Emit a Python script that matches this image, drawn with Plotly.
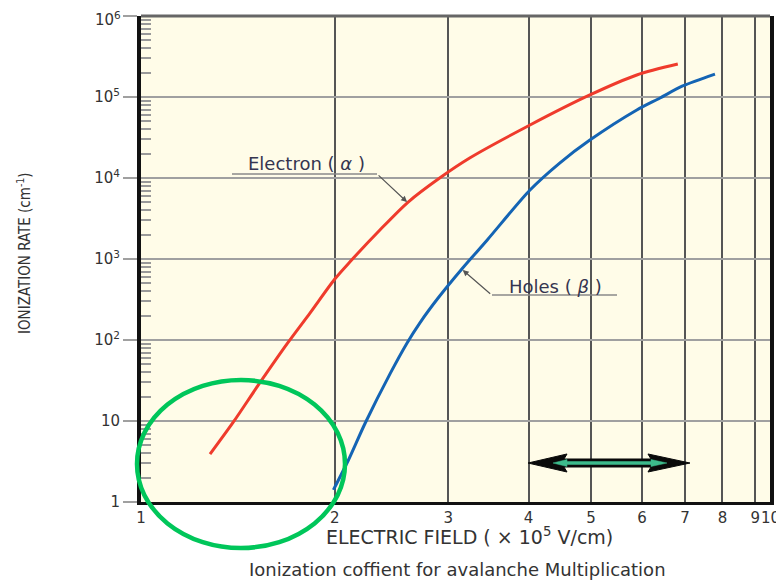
import plotly.graph_objects as go
import numpy as np

# ---------------- data ----------------
field_electron = [1.28, 1.39, 1.52, 1.69, 1.83, 2.0, 2.11, 2.35, 2.60, 2.91, 3.24, 4.02, 4.98, 5.89, 6.82]
alpha_rate = [3.9, 9.6, 27.5, 92, 215, 566, 918, 2280, 5050, 10000, 17650, 45100, 106000, 187000, 255000]

field_holes = [1.99, 2.10, 2.23, 2.44, 2.59, 2.71, 2.89, 3.16, 3.45, 4.02, 4.47, 4.98, 5.89, 6.40, 6.94, 7.79]
beta_rate = [1.41, 3.3, 9.45, 39, 92, 162, 325, 774, 1720, 7110, 15300, 29400, 69200, 97300, 136800, 192000]

x_ticks = [1, 2, 3, 4, 5, 6, 7, 8, 9]
x_ticktext = ["1", "2", "3", "4", "5", "6", "7", "8", "9"]
y_ticks = [1, 10, 100, 1e3, 1e4, 1e5, 1e6]
y_ticktext = ["1", "10", "10<sup>2</sup>", "10<sup>3</sup>", "10<sup>4</sup>", "10<sup>5</sup>", ""]
y_top_label = "10<sup>6</sup>"
y_minor = [k * 10 ** n for n in range(6) for k in range(2, 10)]

# ---------------- layout geometry (page pixels) ----------------
OFF = 8                      # default body margin of the html page
W, H = 784 - OFF, 581 - OFF
L, R, T, B = 141, 770, 16, 502
PW, PH = R - L, B - T


def px(x):
    return (x - L) / PW


def py(y):
    return (B - y) / PH


TEXT = "#333333"
TICKFONT = dict(family="DejaVu Sans, Arial, sans-serif", size=15, color=TEXT)
LABFONT = dict(family="DejaVu Sans, Arial", size=18, color="#353550")

fig = go.Figure()

fig.add_trace(go.Scatter(
    x=field_electron, y=alpha_rate, mode="lines", name="Electron (α)",
    line=dict(color="#EF3B2C", width=3, shape="spline", smoothing=0.8),
    showlegend=False, hoverinfo="x+y"))
fig.add_trace(go.Scatter(
    x=field_holes, y=beta_rate, mode="lines", name="Holes (β)",
    line=dict(color="#1464B4", width=3, shape="spline", smoothing=0.8),
    showlegend=False, hoverinfo="x+y"))

fig.update_layout(
    width=W, height=H, autosize=False,
    margin=dict(l=L - OFF, r=W - (R - OFF), t=T - OFF, b=H - (B - OFF), pad=0),
    paper_bgcolor="white", plot_bgcolor="#FFFCE8",
    showlegend=False,
    xaxis=dict(type="log", range=[0, 0.977], tickvals=x_ticks, ticktext=x_ticktext,
               showgrid=True, gridcolor="#555555", gridwidth=1.5,
               showline=True, linecolor="#111111", linewidth=3, mirror=False,
               ticks="", ticklabelstandoff=0, tickfont=TICKFONT, zeroline=False,
               automargin=False),
    yaxis=dict(type="log", range=[0, 6], tickvals=y_ticks, ticktext=y_ticktext,
               showgrid=True, gridcolor="#a0a0a0", gridwidth=2,
               showline=True, linecolor="#111111", linewidth=4, mirror=True,
               ticks="outside", ticklen=14, tickcolor="#a0a0a0", tickwidth=2,
               tickfont=TICKFONT, zeroline=False, automargin=False,
               minor=dict(tickvals=y_minor, ticks="inside", ticklen=10,
                          tickcolor="#999999", tickwidth=1.5, showgrid=False)),
)

shapes = []
# top border
shapes.append(dict(type="line", xref="paper", yref="paper", x0=0, x1=1, y0=1, y1=1,
                   line=dict(color="#666666", width=3)))
# label underlines
shapes.append(dict(type="line", xref="paper", yref="paper", x0=px(232), x1=px(377),
                   y0=py(174), y1=py(174), line=dict(color="#8a8a8a", width=1.5)))
shapes.append(dict(type="line", xref="paper", yref="paper", x0=px(492), x1=px(617),
                   y0=py(295), y1=py(295), line=dict(color="#8a8a8a", width=1.5)))


def poly(points):
    return "M " + " L ".join(f"{px(a):.4f},{py(b):.4f}" for a, b in points) + " Z"


# double arrow (black outline + teal inner)
yc = 463
outer = [(528, yc), (567, yc - 9), (564, yc - 4), (651, yc - 4), (648, yc - 9), (690, yc),
         (648, yc + 9), (651, yc + 4), (564, yc + 4), (567, yc + 9)]
inner = [(553, yc), (567, yc - 3.5), (567, yc - 1.5), (651, yc - 1.5), (651, yc - 3.5), (667, yc),
         (651, yc + 3.5), (651, yc + 1.5), (567, yc + 1.5), (567, yc + 3.5)]
shapes.append(dict(type="path", xref="paper", yref="paper", path=poly(outer),
                   fillcolor="#0a0a0a", line=dict(color="#0a0a0a", width=1)))
shapes.append(dict(type="path", xref="paper", yref="paper", path=poly(inner),
                   fillcolor="#3DBB8C", line=dict(color="#3DBB8C", width=0.5)))
# green ellipse
shapes.append(dict(type="circle", xref="paper", yref="paper",
                   x0=px(137), x1=px(345), y0=py(548), y1=py(380),
                   line=dict(color="#00C65A", width=4.5), layer="above"))
fig.update_layout(shapes=shapes)

C = dict(xanchor="center", yanchor="middle", showarrow=False, xref="paper", yref="paper")
ann = []
ann.append(dict(text="Electron ( <i>α</i> )", x=px(306), y=py(164), font=LABFONT, **C))
ann.append(dict(text="Holes ( <i>β</i> )", x=px(555), y=py(286), font=LABFONT, **C))
# leader arrows pointing at the curves
ann.append(dict(text="", x=np.log10(2.59), y=np.log10(5050), xref="x", yref="y",
                ax=-30, ay=-28, showarrow=True, arrowhead=2, arrowsize=1, arrowwidth=1.2,
                arrowcolor="#555555"))
ann.append(dict(text="", x=np.log10(3.16), y=np.log10(731), xref="x", yref="y",
                ax=29, ay=25, showarrow=True, arrowhead=2, arrowsize=1, arrowwidth=1.2,
                arrowcolor="#555555"))
# top y tick label (kept inside the page) and "10" x tick label at the right edge
ann.append(dict(text=y_top_label, xref="paper", yref="paper", x=px(123), y=1, yshift=-3,
                xanchor="right", yanchor="middle", showarrow=False, font=TICKFONT))
ann.append(dict(text="10", xref="paper", yref="paper", x=1.0, y=0, yshift=-5, yanchor="top",
                xanchor="center", showarrow=False, font=TICKFONT))
# axis titles
ann.append(dict(text="ELECTRIC FIELD ( × 10<sup>5</sup> V/cm)", x=px(469), y=py(536),
                font=dict(family="DejaVu Sans, Arial", size=19, color=TEXT), **C))
ann.append(dict(text="IONIZATION RATE (cm<sup>-1</sup>)", x=px(24), y=py(253), textangle=-90,
                font=dict(family="Liberation Sans Narrow, DejaVu Sans Condensed, Arial", size=15,
                          color=TEXT), **C))
# caption
ann.append(dict(text="Ionization coffient for avalanche Multiplication", x=px(458), y=py(569),
                font=dict(family="DejaVu Sans, Arial", size=18, color=TEXT), **C))
fig.update_layout(annotations=ann)

fig.write_html("out.html")
